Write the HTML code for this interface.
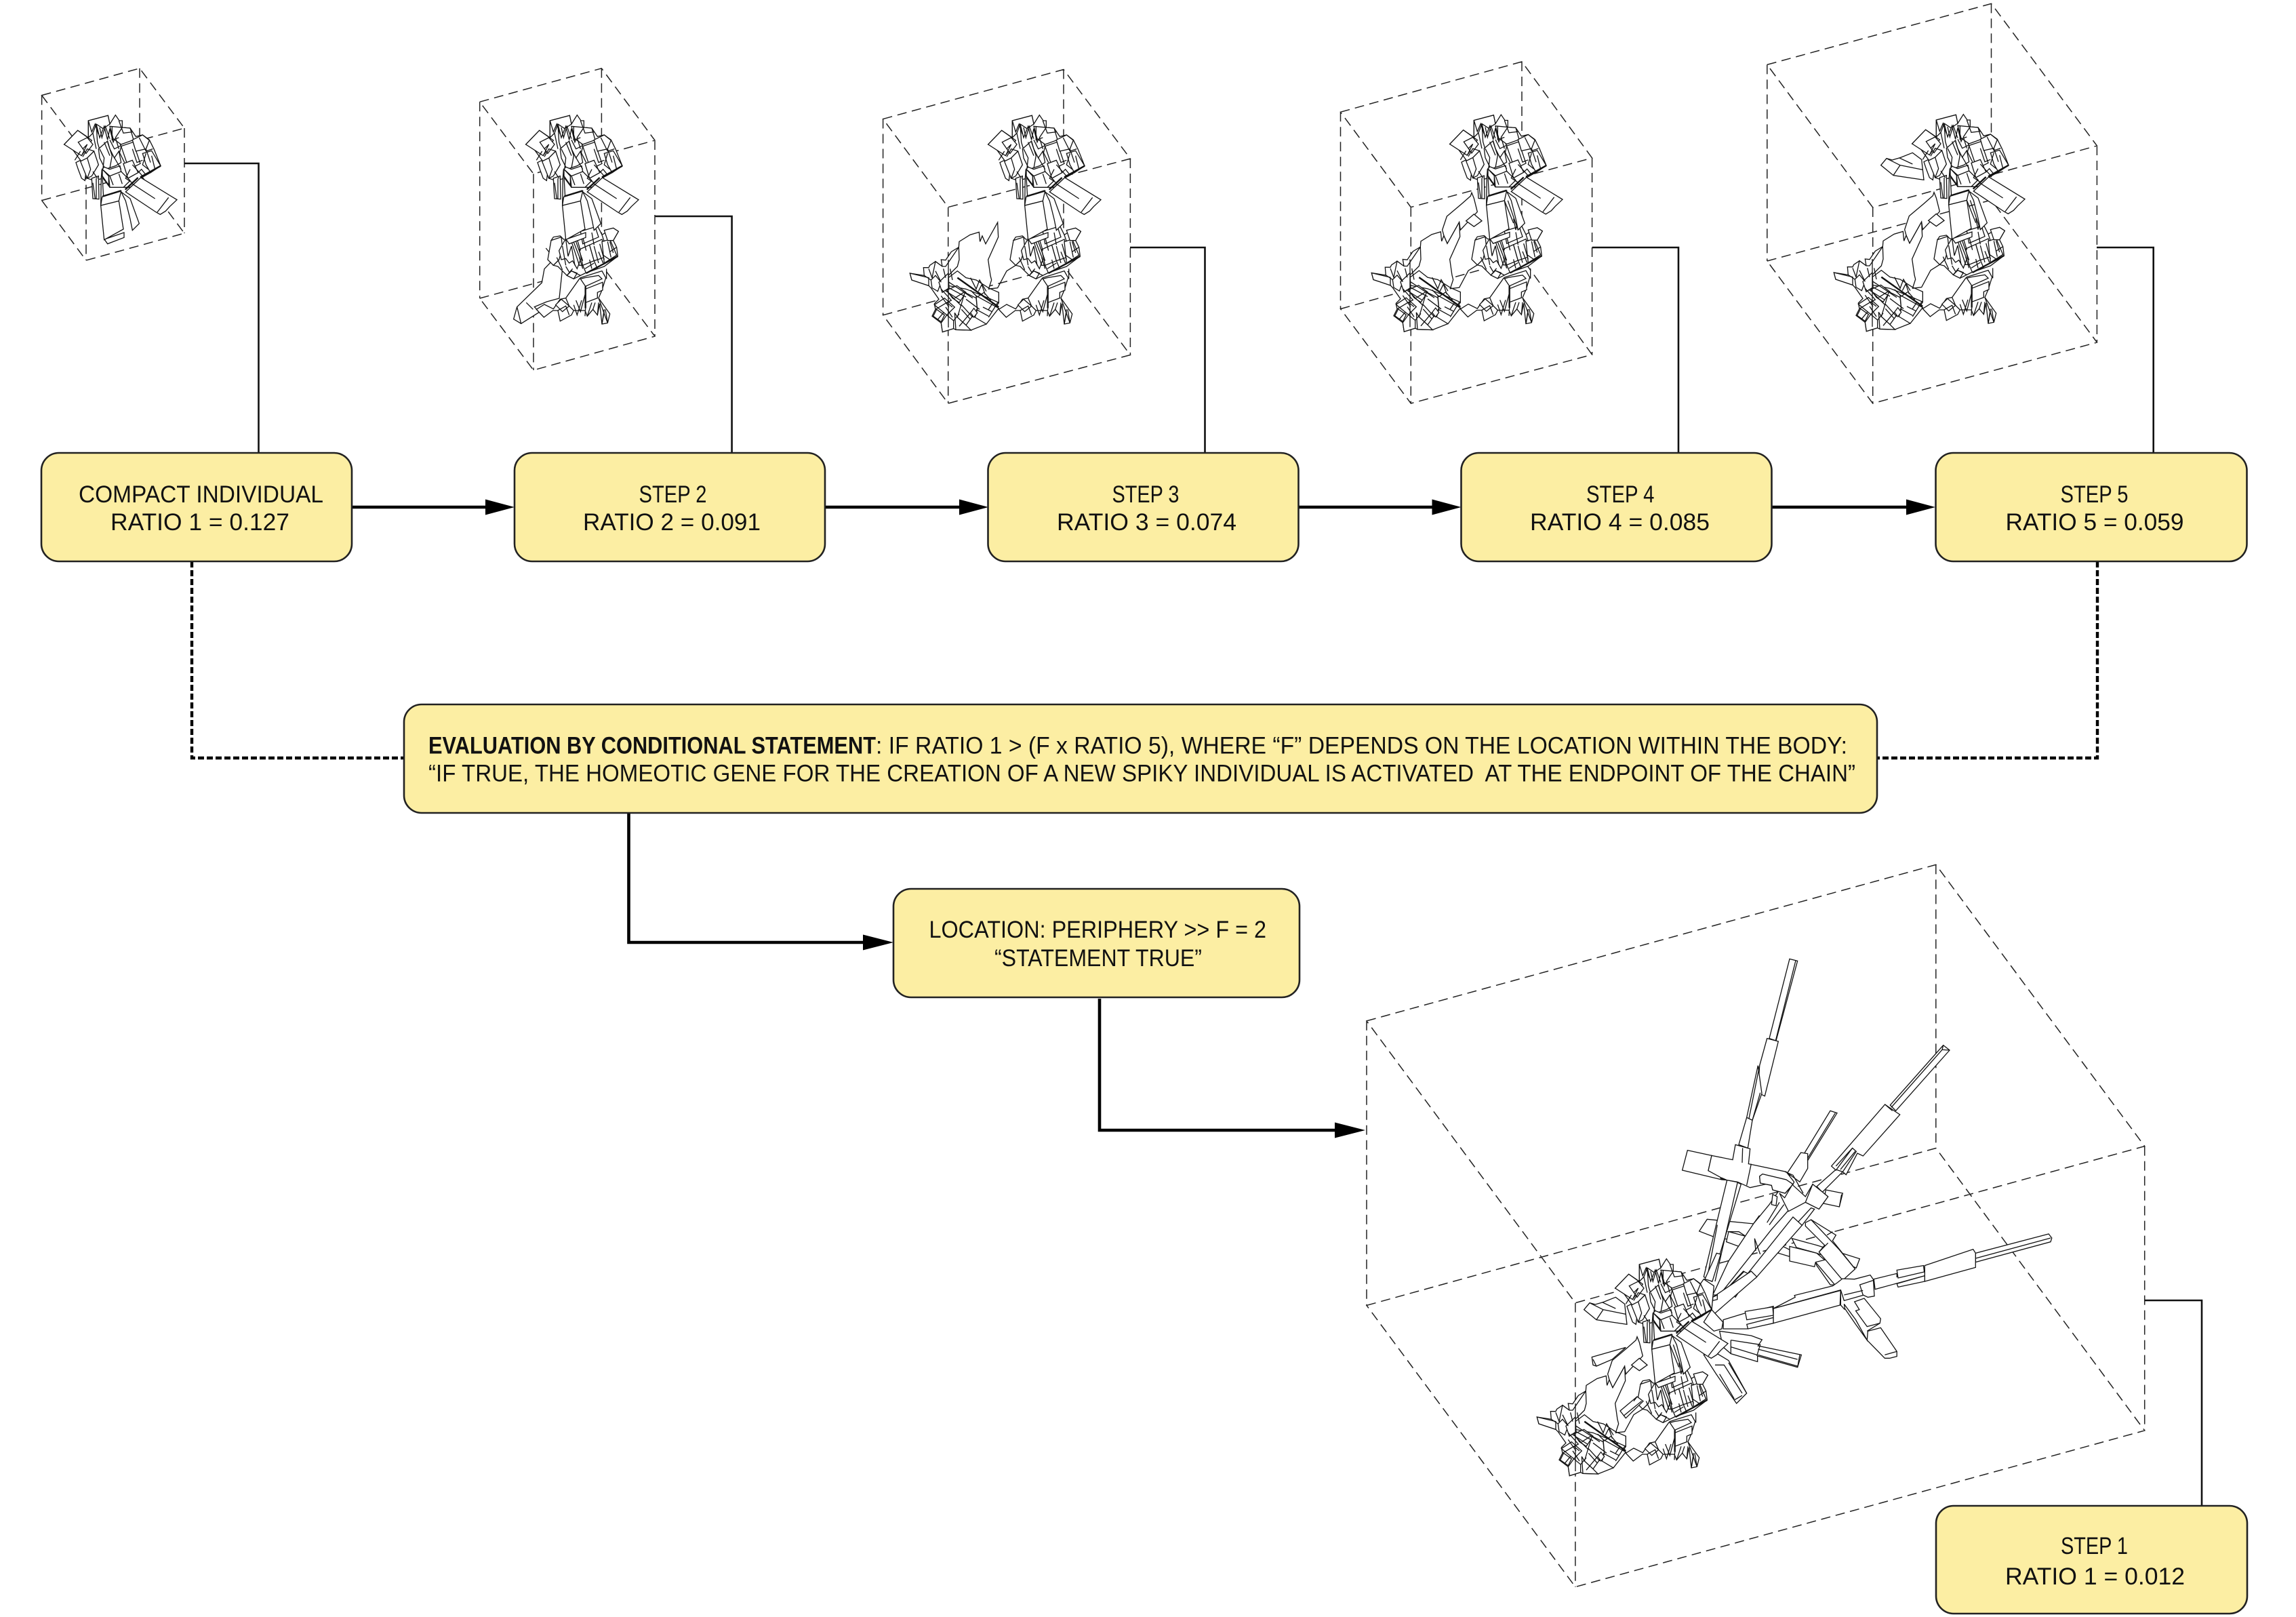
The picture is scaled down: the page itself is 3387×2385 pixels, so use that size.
<!DOCTYPE html>
<html><head><meta charset="utf-8"><style>
html,body{margin:0;padding:0;background:#fff}
svg{display:block}
text{font-family:"Liberation Sans",sans-serif;font-size:35px;fill:#111}
path{vector-effect:non-scaling-stroke}
.bx{fill:#fceea3;stroke:#222;stroke-width:2.6}
.cube path{fill:none;stroke:#222;stroke-width:1.5;stroke-dasharray:14 8}
.thin{fill:none;stroke:#111;stroke-width:2.6}
.thick{fill:none;stroke:#000;stroke-width:4.6}
.dash{fill:none;stroke:#000;stroke-width:4.4;stroke-dasharray:9 4}
.w path{fill:#fff;stroke:#111;stroke-width:1.3;stroke-linejoin:miter}
.w path.o{fill:none}
.w path.d{fill:none;stroke-width:2.4}
</style></head><body>
<svg xmlns="http://www.w3.org/2000/svg" width="3387" height="2385" viewBox="0 0 3387 2385">
<rect width="3387" height="2385" fill="#fff"/>
<defs>
<g id="l" class="w">
<path d="M440 795L443 860 398 960 408 1030 413 1050 400 1090 445 1105 445 1150 390 1245 322 1272 255 1270 245 1265 196 1280 190 1240 150 1210 165 1180 160 1155 180 1135 145 1085 135 1075 60 1050 52 1020 115 1030 112 995 135 995 140 985 165 968 195 990 190 960 210 962 235 925 268 905 270 880 318 850 358 838 362 880 372 855 387 890Z"/>
<path d="M268 905L270 960 262 990 222 1030 190 1060 150 1040 165 968 195 990 210 990Z"/>
<path d="M52 1020L135 1040 135 1075 60 1050Z"/>
<path d="M145 1050L165 1030 190 1060 175 1100 150 1085Z"/>
<path d="M222 1040L262 1010 300 1040 345 1050 400 1085 445 1105 445 1150 400 1130 300 1090 222 1075Z"/>
<path d="M180 1060L222 1020 225 1085 195 1105Z"/>
<path d="M215 1095L260 1075 300 1105 270 1150 240 1130Z"/>
<path d="M160 1160L205 1130 250 1170 215 1205Z"/>
<path d="M295 1105L345 1130 350 1180 300 1250 262 1215Z"/>
<path d="M345 1120L445 1175 390 1245 340 1215 350 1180Z"/>
<path d="M155 1210L170 1180 205 1205 190 1235Z"/>
<path d="M250 1195L262 1215 300 1250 322 1272 255 1270Z"/>
<path d="M320 1195L335 1175 350 1195 335 1215Z"/>
<path d="M190 1240L215 1205 245 1230 245 1265 196 1280Z"/>
<path class="d" d="M262 1040L445 1170"/>
<path class="o" d="M225 1060L330 1130M225 1085L300 1125M205 1095L275 1140M320 1040L345 1090 360 1050 390 1100M440 1150L400 1215M222 960V1260M280 1160L330 1215M190 1090L235 1140 215 1150 240 1170"/>
<path class="o" d="M165 1010L190 1060M115 1030L145 1050M135 1000L150 1040M200 1000L210 1040M230 1000L240 1050M190 1120L225 1170M225 1110L280 1165M250 1130L290 1105M280 1180L320 1225M300 1135L360 1180M345 1180L400 1210M375 1170L415 1190M320 1095L350 1125 380 1105 410 1140M355 1100L370 1070 385 1115M175 1225L200 1195M245 1230L270 1200M270 1255L320 1195M400 1180L420 1150M210 1170L240 1215M165 1180L215 1150"/>
<path class="o" d="M398 1090L440 1085 480 1010 520 985"/>
</g>
<g id="m" class="w">
<path d="M640 1040L735 1010 752 1040 735 1095 720 1130 770 1200 760 1240 735 1245 725 1155 715 1205 695 1180 670 1210 660 1185 610 1185 600 1205 550 1232 540 1185 518 1185 478 1215 445 1180 480 1158 520 1178 550 1135 575 1130 635 1045Z"/>
<path d="M530 1160L555 1135 590 1165 560 1190Z"/>
<path d="M640 1045L662 1078 735 1045 720 1030 660 1040Z"/>
<path d="M662 1090L738 1060 738 1095 715 1105 715 1130 662 1150Z"/>
<path class="d" d="M662 1078V1175"/>
<path class="o" d="M662 1175L660 1210M720 1130L760 1240M745 1180L735 1245M620 1140L640 1190 660 1115M575 1130L590 1165 610 1185M695 1180L705 1150M755 1000V1045"/>
<path class="o" d="M540 1185L575 1165 590 1205M610 1160L625 1205 645 1140M670 1210L690 1150M715 1205L720 1150M735 1245L745 1190M760 1240L750 1180"/>
<path d="M575 870L630 835 665 835 715 810 735 850 785 820 808 835 785 875 800 905 805 945 745 990 660 1020 610 1045 580 1030 540 990 520 985 545 960 540 930 555 890 510 875 520 860 550 855 565 870Z"/>
<path d="M510 875L555 860 560 905 545 960 520 985 495 960Z"/>
<path d="M640 835L650 890 720 860 705 815Z"/>
<path d="M635 915L680 895 700 965 650 985Z"/>
<path d="M680 895L735 870 760 945 700 965Z"/>
<path d="M735 880L770 870 800 940 745 975Z"/>
<path d="M570 875L605 870 640 960 625 1000 605 965 590 975 575 955 555 960 545 920Z"/>
<path d="M745 830L785 820 808 835 785 875 760 875Z"/>
<path d="M610 1045L580 1030 600 1010 625 1020Z"/>
<path class="d" d="M665 1020L805 945"/>
<path class="o" d="M600 880L635 985 650 985 665 1020M620 880L650 965M720 925L740 975M575 990L590 1015M660 1000L700 975M700 965L715 1000"/>
<path class="o" d="M575 870L585 945 600 900 615 985M625 870L640 920M650 860L665 920M690 840L700 895M735 850L745 880M770 880L785 930M700 900L720 975M725 890L745 960M760 880L775 950M560 900L575 985M535 950L560 1005M690 1000L680 960M650 1000L635 950M600 1010L640 1030M580 1030L605 1000M740 940L770 960M800 905L770 925"/>
</g>
<g id="u" class="w">
<path d="M650 660L690 690 730 800 700 830 690 780 670 700Z"/>
<path d="M576 870L590 890 663 862 663 840Z"/>
<path d="M505 345L592 322 600 360 625 320 642 345 655 345 655 375 690 378 715 415 745 408 775 430 795 470 825 545 780 575 735 600 690 640 600 640 570 600 530 610 500 600 470 520 430 465 398 450 458 388 505 420Z"/>
<path d="M520 600L550 590 552 692 525 690 522 640Z"/>
<path d="M450 530L470 520 495 570 490 610 475 600 460 560Z"/>
<path d="M398 450L458 388 520 432 475 500Z"/>
<path d="M460 440L500 420 525 450 495 490Z"/>
<path d="M505 345L592 322 600 360 570 380 540 360 525 400 505 420Z"/>
<path d="M540 360L555 420 575 370 590 430 600 380 615 440 630 405 650 460 640 500 600 520 560 490 545 440Z"/>
<path d="M600 370L655 375 690 378 705 430 650 450 615 425Z"/>
<path d="M650 458L703 440 735 535 685 560Z"/>
<path d="M700 430L745 408 775 432 760 470 715 480Z"/>
<path d="M745 490L785 478 825 545 780 575 760 540Z"/>
<path d="M550 470L590 435 600 470 620 510 640 480 650 530 625 545 580 560 555 510Z"/>
<path d="M500 510L530 480 550 540 520 590 500 600 470 525Z"/>
<path d="M660 535L700 520 725 575 680 600Z"/>
<path d="M595 590L650 570 690 610 660 640 600 640Z"/>
<path d="M567 560L600 590 650 570 645 545 600 560 575 550Z"/>
<path d="M567 560L595 590 595 630 567 590Z"/>
<path class="o" d="M525 400L540 470M575 440L600 500M615 500L650 560M700 540L745 590M760 470L780 530M545 600L525 570M480 470L500 450 475 500"/>
<path class="o" d="M505 345L520 395 535 360 550 405M555 375L565 420 580 370 600 425M610 370V430L640 420M640 345L660 400 700 395M655 375L625 420 640 470M600 430L620 470 650 455M555 470L575 510 570 555M590 440L610 500 600 555M640 480L665 530M700 470L720 530 745 520M730 420L760 480 790 470M760 490L745 540 770 560M785 500L800 560M690 560L670 600 700 620M725 575L740 560 760 585M600 590L615 630M640 580L655 625M480 505L500 470 530 480M470 480L445 520M500 510L515 560 500 600M525 620L535 690M540 600V690"/>
<path d="M565 560L572 682 565 722 560 720 562 600Z"/>
<path d="M560 720L640 700 660 825 575 872Z"/>
<path d="M566 682L650 656 640 700 560 720Z"/>
<path class="d" d="M568 680L650 655"/>
<path d="M670 660L737 597 897 695 865 725 847 745 823 760 805 750Z"/>
<path class="d" d="M668 650L725 597M735 595L825 545"/>
<path class="o" d="M860 685L810 750M700 625L800 690"/>
</g>
<g id="c" class="w">
<path d="M495 665L490 680 450 715 385 770 365 830 372 855 387 890 440 795 445 830 520 750 505 690Z"/>
<path d="M470 790L505 760 540 790 505 815Z"/>
<path class="o" d="M640 700L680 800M655 700L700 830M680 780L690 830 700 780 710 830"/>
</g>
<g id="a" class="w">
<path d="M260 545L285 515 310 522 345 512 400 490 440 520 450 610 315 590Z"/>
<path d="M345 545L445 565"/>
<path class="o" d="M345 545L315 590M345 545L285 515M340 512L400 540"/>
</g>
<g id="leg" class="w">
<path d="M487 909L524 955 480 1001 469 1062 359 1169 344 1223 377 1243 458 1192 436 1169 491 1146 546 1131 560 1000 Z"/>
<path class="o" d="M359 1169L377 1243M400 1150L430 1180"/>
</g>
</defs>

<!-- cubes -->
<g class="cube">
<path d="M61.6 140.6L206 100.8 272 189 127 228.6ZM61.6 295.6L206 256 272 344 127 384ZM61.6 140.6V295.6M206 100.8V256M272 189V344M127 228.6V384"/>
<path d="M707.7 150.3L887.4 100.8 966 207 787 256.4ZM707.7 440L887.4 391 966 496 787 546ZM707.7 150.3V440M887.4 100.8V391M966 207V496M787 256.4V546"/>
<path d="M1302.6 175.5L1569 102.5 1667.4 234 1398.7 305.6ZM1302.6 464.8L1569 392 1667.4 523.5 1398.7 595ZM1302.6 175.5V464.8M1569 102.5V392M1667.4 234V523.5M1398.7 305.6V595"/>
<path d="M1977.5 165.3L2245 91 2348.6 233 2081.3 305.6ZM1977.5 455.6L2245 381 2348.6 523 2081.3 595ZM1977.5 165.3V455.6M2245 91V381M2348.6 233V523M2081.3 305.6V595"/>
<path d="M2606.8 95.4L2937.5 5.4 3093.4 215 2762.7 306ZM2606.8 385L2937.5 295 3093.4 505 2762.7 595ZM2606.8 95.4V385M2937.5 5.4V295M3093.4 215V505M2762.7 306V595"/>
<path d="M2016 1505.8L2855.8 1275.4 3163.7 1690.6 2323.9 1921.7ZM2016 1925.4L2855.8 1693.5 3163.7 2110 2323.9 2340.6ZM2016 1505.8V1925.4M2855.8 1275.4V1693.5M3163.7 1690.6V2110M2323.9 1921.7V2340.6"/>
</g>

<!-- spikes (big individual) -->
<g class="w" transform="translate(2450,1400) scale(.33333)">
<path d="M170 1248L205 1195 410 1215 435 1180 470 1185 490 1240 375 1270 345 1250 300 1250 345 1275 340 1290 240 1275Z"/>
<path d="M290 1295L345 1315 375 1270 300 1250Z"/>
<path d="M530 1310L570 1330 570 1360 520 1345Z"/>
<path d="M580 1280L690 1310 880 1370 865 1410 690 1345 600 1320Z"/>
<path d="M570 1315L690 1345 725 1375 685 1385 680 1405 570 1380Z"/>
<path d="M685 1385L770 1485 750 1485 690 1400Z"/>
<path d="M570 1000L480 1130 410 1215 300 1380 230 1530 260 1530 490 1240 570 1150Z"/>
<path d="M730 1065L805 1080 790 1140 720 1125Z"/>
<path class="o" d="M800 1085L790 1140"/>
<path d="M570 43L605 52 510 405 480 395Z"/>
<path class="o" d="M597 50L508 405"/>
<path d="M470 395L520 408 460 650 430 635 437 515Z"/>
<path d="M430 515L380 745 405 757 447 638Z"/>
<path class="o" d="M437 515L390 750M440 635L405 757"/>
<path d="M405 757L385 880 345 865 380 745Z"/>
<path d="M118 890L225 913 210 980 265 995 265 1015 295 1022 270 1020 95 978Z"/>
<path d="M293 1022L245 1220 190 1450 225 1470 355 1040 335 1030Z"/>
<path class="o" d="M340 1030L240 1470M250 1220L205 1455"/>
<path d="M247 1345L265 1350 228 1470 195 1460Z"/>
<path d="M318 932L330 865 395 883 388 950 555 985 590 1030 580 1050 550 1080 495 1065 490 1045 440 1035 437 1005 450 995 555 1020 395 1055 340 1030 293 1022 265 1010 210 980 225 913Z"/>
<path d="M437 1005L450 995 555 1020 585 1040 550 1080 495 1065 490 1045 440 1035Z"/>
<path class="o" d="M362 880L360 945M400 950L380 1045"/>
<path d="M750 715L780 725 650 935 637 900Z"/>
<path class="o" d="M772 725L650 925"/>
<path d="M620 900L650 905 650 970 615 1030 560 990Z"/>
<path d="M1250 425L1278 447 1040 715 1015 690Z"/>
<path class="o" d="M1245 445L1020 700M1250 425L1245 445 1278 447"/>
<path d="M775 975L690 1050 715 1075 805 985Z"/>
<path d="M992 687L1040 720 1058 732 895 915 870 903 820 998 805 985 865 895 848 880 775 978 755 960Z"/>
<path class="o" d="M992 687L1025 715M848 880L775 960M860 895L795 975"/>
<path d="M640 1210L665 1197 775 1265 760 1290 860 1415 805 1465 700 1340 725 1310 640 1225Z"/>
<path class="o" d="M665 1197L790 1330 860 1415M740 1300L700 1340"/>
<path d="M680 1150L665 1145 605 1210 625 1222Z"/>
<path d="M585 1185L625 1222 420 1455 395 1440 330 1540 290 1505 365 1425 385 1435Z"/>
<path class="o" d="M370 1425L290 1505M380 1440L310 1520M440 1350L415 1280 420 1335"/>
<path d="M582 1042L640 1095 672 1040 740 1095 700 1150 640 1120 565 1160 525 1080 548 1100Z"/>
<path d="M672 1040L716 1075 740 1095 700 1150 640 1120Z"/>
<path d="M495 1085L515 1095 510 1135 490 1130Z"/>
<path class="o" d="M525 1120L470 1210M545 1130L480 1220M760 1250L735 1265M550 985L585 1000 630 1080"/>
</g>
<g class="w" transform="translate(2500,1750) scale(.35714,.33333)">
<path d="M118 590L210 560 325 530 325 605 215 630 118 630Z"/>
<path d="M215 610L325 580 325 605 220 630Z"/>
<path d="M208 553L322 533 325 570 215 590Z"/>
<path d="M1462 210L1475 228 1470 245 1160 335 1160 295Z"/>
<path class="o" d="M1470 228L1160 318"/>
<path d="M950 350L1150 278 1160 295 1160 358 950 420Z"/>
<path d="M950 395L950 420 840 445 835 430Z"/>
<path d="M740 410L835 385 835 400 950 370 950 395 745 455Z"/>
<path d="M835 370L945 350 948 378 840 405Z"/>
<path d="M325 605L600 525 603 460 325 540Z"/>
<path d="M325 540L415 490 412 482 570 440 590 425 610 408 660 410 725 392 740 415 740 485 715 490 700 480 617 505 603 458Z"/>
<path d="M682 435L738 415 742 485 715 490 695 480Z"/>
<path class="o" d="M617 480L695 460M603 458L603 525 620 545"/>
<path d="M617 520L665 590 712 680 715 640 768 625 835 730 835 752 805 760 785 760 712 680 665 610 620 540Z"/>
<path d="M660 510L700 495 768 585 765 605 712 620 665 550 680 545Z"/>
<path class="o" d="M765 605L712 640M785 745L835 730"/>
</g>
<g class="w" transform="translate(2250,1750) scale(.33333)">
<path d="M1025 400L1000 375 830 490 825 545 835 565Z"/>
<path d="M765 445L790 410 835 440 825 545 770 520Z"/>
<path d="M830 490L850 480 850 500 830 505Z"/>
<path d="M825 545L875 600 870 630 835 640 790 600Z"/>
<path d="M860 640L1000 660 1048 678 1030 705 1222 745 1205 800 1028 750 1028 775 910 740 875 710Z"/>
<path class="o" d="M910 680L1040 700 1025 750M910 710L1025 745M910 680V740M1030 720L1205 765M1030 745L1205 795M1215 745L1205 800"/>
<path d="M790 745L850 740 900 770 980 915 935 960 845 830Z"/>
<path class="o" d="M840 790L880 790 960 915M860 830L925 940M900 780L980 915M925 945L960 925"/>
<path d="M295 755L445 712 385 765 315 795 300 790Z"/>
<path class="o" d="M300 765L315 795"/>
<use href="#l"/>
<use href="#m"/>
<path d="M420 993L495 930 522 950 445 1025Z"/>
<path class="o" d="M435 1015L515 950M495 930L480 950"/>
<use href="#c"/>
<use href="#a"/>
<use href="#u"/>
</g>

<!-- stages -->
<g transform="translate(-38,63) scale(.33333)"><use href="#u"/></g>
<g transform="translate(643,63) scale(.33333)"><use href="#leg"/><use href="#m"/><use href="#u"/></g>
<g transform="translate(1325,63) scale(.33333)"><use href="#l"/><use href="#m"/><use href="#u"/></g>
<g transform="translate(2006,62.5) scale(.33333)"><use href="#l"/><use href="#m"/><use href="#c"/><use href="#u"/></g>
<g transform="translate(2688,62) scale(.33333)"><use href="#l"/><use href="#m"/><use href="#c"/><use href="#a"/><use href="#u"/></g>

<!-- connectors -->
<path class="thin" d="M272 241H381.5V668M966.6 319H1079.6V668M1667 365H1777.5V668M2348.6 365H2476V668M3093 365H3176.7V668M3164 1918H3248V2221"/>
<path class="dash" d="M283 828V1118H596M3094 828V1118H2769"/>
<path class="thick" d="M519 748H720M1217 748H1420M1915 748H2118M2614 748H2816M927.5 1198V1390H1275M1622 1473V1667H1973"/>
<g fill="#000">
<path d="M759 748L716 736.5V759.5Z"/><path d="M1458 748L1415 736.5V759.5Z"/><path d="M2155.5 748L2112.5 736.5V759.5Z"/><path d="M2855 748L2812 736.5V759.5Z"/><path d="M1318 1390L1273 1378.5V1401.5Z"/><path d="M2014 1667L1969 1655.5V1678.5Z"/>
</g>

<!-- boxes -->
<rect class="bx" x="61" y="668" width="458" height="160" rx="26"/>
<rect class="bx" x="759" y="668" width="458" height="160" rx="26"/>
<rect class="bx" x="1457.5" y="668" width="458" height="160" rx="26"/>
<rect class="bx" x="2155.5" y="668" width="458" height="160" rx="26"/>
<rect class="bx" x="2855.5" y="668" width="459" height="160" rx="26"/>
<rect class="bx" x="596" y="1039" width="2173" height="160" rx="26"/>
<rect class="bx" x="1318" y="1311" width="599" height="160" rx="26"/>
<rect class="bx" x="2856" y="2221" width="459" height="159" rx="26"/>

<!-- labels -->
<text x="116" y="741" textLength="361" lengthAdjust="spacingAndGlyphs">COMPACT INDIVIDUAL</text>
<text x="163" y="782" textLength="264" lengthAdjust="spacingAndGlyphs">RATIO 1 = 0.127</text>
<text x="942.5" y="741" textLength="100" lengthAdjust="spacingAndGlyphs">STEP 2</text>
<text x="860" y="782" textLength="262" lengthAdjust="spacingAndGlyphs">RATIO 2 = 0.091</text>
<text x="1640.5" y="741" textLength="99" lengthAdjust="spacingAndGlyphs">STEP 3</text>
<text x="1559" y="782" textLength="265" lengthAdjust="spacingAndGlyphs">RATIO 3 = 0.074</text>
<text x="2340" y="741" textLength="100.5" lengthAdjust="spacingAndGlyphs">STEP 4</text>
<text x="2257" y="782" textLength="265" lengthAdjust="spacingAndGlyphs">RATIO 4 = 0.085</text>
<text x="3039.5" y="741" textLength="100" lengthAdjust="spacingAndGlyphs">STEP 5</text>
<text x="2958.5" y="782" textLength="263" lengthAdjust="spacingAndGlyphs">RATIO 5 = 0.059</text>
<text x="632" y="1111.5" textLength="660" lengthAdjust="spacingAndGlyphs" font-weight="700">EVALUATION BY CONDITIONAL STATEMENT</text>
<text x="1292" y="1111.5" textLength="1433" lengthAdjust="spacingAndGlyphs">: IF RATIO 1 &gt; (F x RATIO 5), WHERE “F” DEPENDS ON THE LOCATION WITHIN THE BODY:</text>
<text x="632" y="1152.5" textLength="2105" lengthAdjust="spacingAndGlyphs" xml:space="preserve">“IF TRUE, THE HOMEOTIC GENE FOR THE CREATION OF A NEW SPIKY INDIVIDUAL IS ACTIVATED  AT THE ENDPOINT OF THE CHAIN”</text>
<text x="1370.5" y="1383" textLength="497.5" lengthAdjust="spacingAndGlyphs">LOCATION: PERIPHERY &gt;&gt; F = 2</text>
<text x="1467" y="1425" textLength="306" lengthAdjust="spacingAndGlyphs">“STATEMENT TRUE”</text>
<text x="3040" y="2292" textLength="99" lengthAdjust="spacingAndGlyphs">STEP 1</text>
<text x="2958" y="2337" textLength="265" lengthAdjust="spacingAndGlyphs">RATIO 1 = 0.012</text>
</svg>
</body></html>
